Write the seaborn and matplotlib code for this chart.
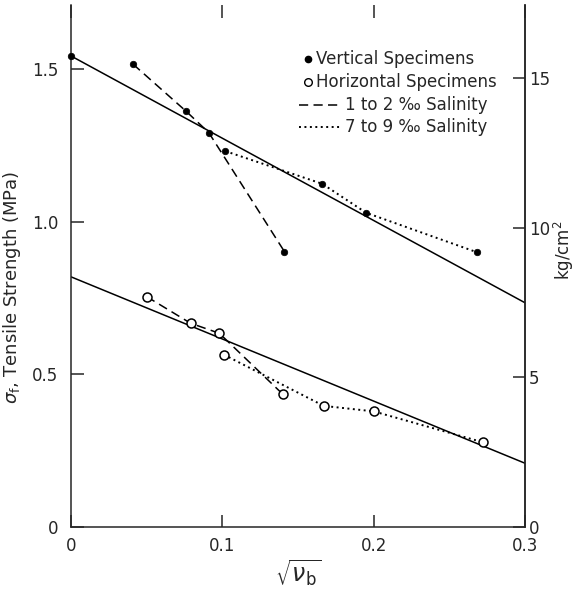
import matplotlib
matplotlib.use("Agg")
import matplotlib.pyplot as plt
from matplotlib.lines import Line2D
import seaborn as sns
import pandas as pd

# sqrt(brine volume) vs. tensile strength (MPa)
vert_x_low = [0.041, 0.076, 0.091, 0.141]
vert_y_low = [1.517, 1.363, 1.293, 0.903]
vert_x_high = [0.102, 0.166, 0.195, 0.268]
vert_y_high = [1.232, 1.125, 1.030, 0.901]

horiz_x_low = [0.050, 0.079, 0.098, 0.140]
horiz_y_low = [0.755, 0.668, 0.635, 0.435]
horiz_x_high = [0.101, 0.167, 0.200, 0.272]
horiz_y_high = [0.565, 0.397, 0.379, 0.278]

# straight-line fits, end points at sqrt(vb) = 0 and 0.3
fit_x = [0.0, 0.3]
fit_vert_y = [1.544, 0.735]
fit_horiz_y = [0.820, 0.209]

x_ticks = [0, 0.1, 0.2, 0.3]
x_ticklabels = ["0", "0.1", "0.2", "0.3"]
y_ticks = [0, 0.5, 1.0, 1.5]
y_ticklabels = ["0", "0.5", "1.0", "1.5"]
kg_ticks = [0, 5, 10, 15]
legend_labels = ["Vertical Specimens", "Horizontal Specimens",
                 "1 to 2 \u2030 Salinity", "7 to 9 \u2030 Salinity"]

MPA_TO_KG = 10.197

sns.set_theme(style="ticks")
plt.rcParams["font.family"] = ["DejaVu Sans"]
plt.rcParams["axes.linewidth"] = 1.1

fig = plt.figure(figsize=(5.78, 5.91), dpi=100)
ax = fig.add_axes([71 / 578, 64 / 591, 454 / 578, 522 / 591])

ink = "black"
dash = (0, (6, 3.5))
dot = (0, (1, 1.8))

def series(x, y, style, lw=1.1):
    df = pd.DataFrame({"x": x, "y": y})
    sns.lineplot(data=df, x="x", y="y", ax=ax, sort=False, estimator=None,
                 color=ink, linewidth=lw, linestyle=style)

def points(x, y, filled):
    df = pd.DataFrame({"x": x, "y": y})
    if filled:
        sns.scatterplot(data=df, x="x", y="y", ax=ax, s=22, color=ink,
                        edgecolor=ink, linewidth=0.5, zorder=4, clip_on=False)
    else:
        sns.scatterplot(data=df, x="x", y="y", ax=ax, s=42, facecolor="white",
                        edgecolor=ink, linewidth=1.1, zorder=4, clip_on=False)

# regression lines
series(fit_x, fit_vert_y, "-")
series(fit_x, fit_horiz_y, "-")
points([fit_x[0]], [fit_vert_y[0]], True)

# 1-2 permil (dashed) and 7-9 permil (dotted) salinity series
series(vert_x_low, vert_y_low, dash)
series(vert_x_high, vert_y_high, dot, lw=1.4)
series(horiz_x_low, horiz_y_low, dash)
series(horiz_x_high, horiz_y_high, dot, lw=1.4)

points(vert_x_low, vert_y_low, True)
points(vert_x_high, vert_y_high, True)
points(horiz_x_low, horiz_y_low, False)
points(horiz_x_high, horiz_y_high, False)

ax.set_xlim(0, 0.3)
ax.set_ylim(0, 1.711)
ax.set_xticks(x_ticks)
ax.set_xticklabels(x_ticklabels)
ax.set_yticks(y_ticks)
ax.set_yticklabels(y_ticklabels)
ax.spines["top"].set_visible(False)
ax.tick_params(axis="x", direction="in", length=9, width=1.1, top=True,
               labelsize=12, pad=7)
ax.tick_params(axis="y", direction="in", length=9, width=1.1, right=False,
               labelsize=12, pad=9)

ax.set_xlabel(r"$\sqrt{\nu_{\rm b}}$", fontsize=17, labelpad=2)
ax.set_ylabel(r"$\sigma_{\rm f}$, Tensile Strength (MPa)", fontsize=13)
ax.yaxis.set_label_coords(-0.105, 0.46)

sec = ax.secondary_yaxis("right", functions=(lambda v: v * MPA_TO_KG,
                                             lambda v: v / MPA_TO_KG))
sec.set_yticks(kg_ticks)
sec.tick_params(direction="in", length=9, width=1.1, labelsize=12, pad=3)
sec.spines["right"].set_linewidth(1.1)
sec.set_ylabel("kg/cm$^2$", fontsize=12)
sec.yaxis.set_label_coords(1.06, 0.53, transform=ax.transAxes)

# key in the upper right
rows = [0.897, 0.852, 0.808, 0.766]
handles = [
    Line2D([0.521], [rows[0]], marker="o", markersize=4.5, color=ink,
           linestyle="none", transform=ax.transAxes),
    Line2D([0.521], [rows[1]], marker="o", markersize=5.5, markerfacecolor="white",
           markeredgecolor=ink, markeredgewidth=1.0, linestyle="none",
           transform=ax.transAxes),
    Line2D([0.503, 0.592], [rows[2], rows[2]], color=ink, linewidth=1.1,
           linestyle=dash, transform=ax.transAxes),
    Line2D([0.503, 0.592], [rows[3], rows[3]], color=ink, linewidth=1.4,
           linestyle=dot, transform=ax.transAxes),
]
text_x = [0.540, 0.540, 0.604, 0.604]
for h, label, tx, ty in zip(handles, legend_labels, text_x, rows):
    ax.add_line(h)
    h.set_clip_on(False)
    ax.text(tx, ty, label, transform=ax.transAxes, fontsize=12,
            va="center", ha="left")

fig.savefig("out.png", dpi=100)
